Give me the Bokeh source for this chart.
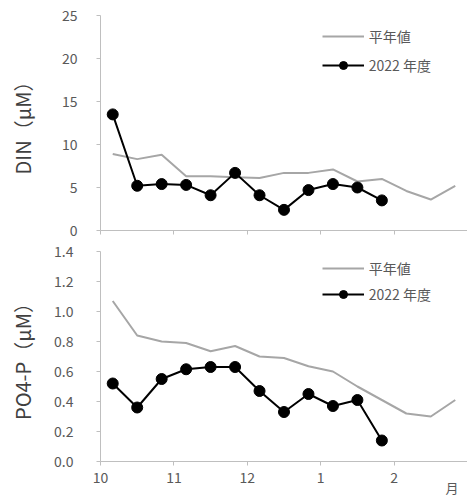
from bokeh.plotting import figure
from bokeh.layouts import column
from bokeh.models import (FixedTicker, Legend, LegendItem, Range1d, LinearAxis,
                          NumeralTickFormatter)
from bokeh.embed import file_html
from bokeh.resources import INLINE

# ---- data ----
month_labels = ["10", "11", "12", "1", "2"]
unit_label = "月"
n_dekads = 15  # Oct 上旬 .. Feb 下旬
din_normal = [8.9, 8.3, 8.8, 6.3, 6.3, 6.2, 6.1, 6.7, 6.7, 7.1, 5.7, 6.0, 4.6, 3.6, 5.2]
din_2022 = [13.5, 5.2, 5.4, 5.3, 4.1, 6.7, 4.1, 2.4, 4.7, 5.4, 5.0, 3.5]
po4_normal = [1.07, 0.84, 0.80, 0.79, 0.735, 0.77, 0.70, 0.69, 0.635, 0.60, 0.50, 0.41, 0.32, 0.30, 0.41]
po4_2022 = [0.52, 0.36, 0.55, 0.615, 0.63, 0.63, 0.47, 0.33, 0.45, 0.37, 0.41, 0.14]
din_ticks = [0, 5, 10, 15, 20, 25]
po4_ticks = [0.0, 0.2, 0.4, 0.6, 0.8, 1.0, 1.2, 1.4]

FONT = "Noto Sans CJK JP"
AXIS_C = "#bfbfbf"
TEXT_C = "#595959"
GRAY = "#a6a6a6"

x_norm = [i + 0.5 for i in range(len(din_normal))]
x_2022 = [i + 0.5 for i in range(len(din_2022))]
month_pos = [3 * i for i in range(len(month_labels))]
unit_pos = 14.37


def make_fig(ymax, ticks, ylabel, normal, cur, height, top, bottom, show_x, tick_standoff,
             label_standoff, legend_vy, legend_spacing):
    p = figure(width=467, height=height, output_backend="svg", toolbar_location=None,
               x_range=Range1d(0, n_dekads), y_range=Range1d(0, ymax),
               min_border_left=100, min_border_right=0, min_border_top=top,
               min_border_bottom=bottom)
    p.outline_line_color = None
    p.grid.visible = False
    p.background_fill_color = None
    p.border_fill_color = None

    xa = p.xaxis[0]
    xa.ticker = FixedTicker(ticks=month_pos)
    xa.major_label_overrides = {pos: (lab if show_x else "") for pos, lab in zip(month_pos, month_labels)}
    xa.axis_line_color = AXIS_C
    xa.major_tick_line_color = AXIS_C
    xa.minor_tick_line_color = None
    xa.major_tick_out = 4
    xa.major_tick_in = 0
    xa.major_label_text_font = FONT
    xa.major_label_text_font_size = "14px"
    xa.major_label_text_color = TEXT_C
    xa.major_label_standoff = 6

    ya = p.yaxis[0]
    ya.ticker = FixedTicker(ticks=ticks)
    ya.axis_line_color = AXIS_C
    ya.major_tick_line_color = AXIS_C
    ya.major_tick_out = 4
    ya.major_tick_in = 0
    ya.minor_tick_line_color = None
    ya.major_label_text_font = FONT
    ya.major_label_text_font_size = "14px"
    ya.major_label_text_color = TEXT_C
    ya.major_label_standoff = tick_standoff
    ya.axis_label = ylabel
    ya.axis_label_text_font = FONT
    ya.axis_label_text_font_size = "20px"
    ya.axis_label_text_font_style = "normal"
    ya.axis_label_text_color = "#404040"
    ya.axis_label_standoff = label_standoff

    g = p.line(x_norm, normal, line_color=GRAY, line_width=2)
    bl = p.line(x_2022, cur, line_color="black", line_width=2)
    bp = p.scatter(x_2022, cur, size=11, fill_color="black", line_color="black")

    leg = Legend(items=[LegendItem(label="平年値", renderers=[g]),
                        LegendItem(label="2022 年度", renderers=[bl, bp])],
                 location=(221.7, legend_vy), glyph_width=42, glyph_height=20,
                 label_height=20, label_standoff=5, spacing=legend_spacing,
                 padding=0, margin=0, border_line_color=None,
                 background_fill_alpha=0, label_text_font=FONT,
                 label_text_font_size="14px", label_text_color=TEXT_C)
    p.add_layout(leg)
    return p


p1 = make_fig(25, din_ticks, "DIN（μM）", din_normal, din_2022, 242, 15, 12, False,
              19, 22, 155.3, 9)
p2 = make_fig(1.4, po4_ticks, "PO4-P（μM）", po4_normal, po4_2022, 257, 9, 37, True,
              23, 14, 156.7, 6)
p2.yaxis[0].formatter = NumeralTickFormatter(format="0.0")

# unit label "月" as a second, line-less axis under the month axis
unit_axis = LinearAxis(ticker=FixedTicker(ticks=[unit_pos]),
                       major_label_overrides={unit_pos: unit_label},
                       axis_line_color=None, major_tick_line_color=None,
                       minor_tick_line_color=None, major_tick_out=0, major_tick_in=0,
                       minor_tick_out=0, minor_tick_in=0,
                       major_label_standoff=-8, major_label_text_font=FONT,
                       major_label_text_font_size="13px", major_label_text_color=TEXT_C)
p2.add_layout(unit_axis, "below")

layout = column(p1, p2, spacing=0)
open("out.html", "w").write(file_html(layout, INLINE))
